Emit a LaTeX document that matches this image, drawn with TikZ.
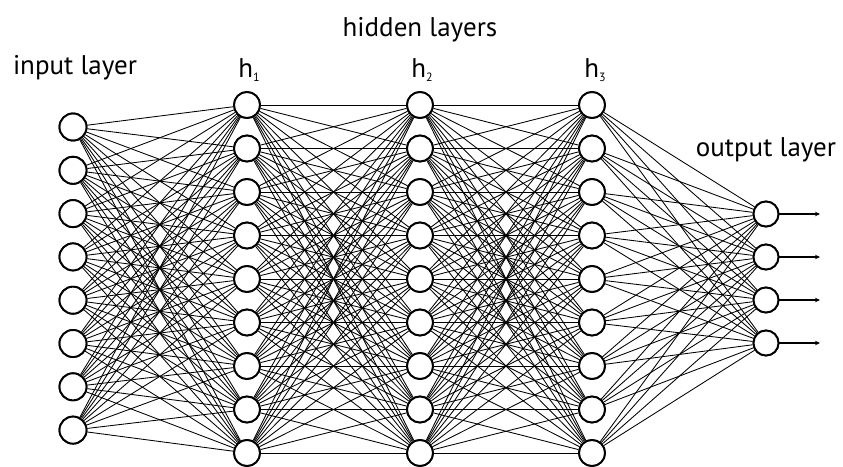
\documentclass[tikz,border=0pt]{standalone}
\usepackage{fontspec}
\setmainfont{PT Sans}
\usetikzlibrary{arrows.meta}
\tikzset{
  neuron/.style={circle, draw=black, fill=white, line width=1.9pt, inner sep=0pt, minimum size=#1},
  edge/.style={line width=0.85pt, black},
  outarrow/.style={line width=1.3pt, -{Stealth[length=5pt,width=4.5pt]}},
  lbl/.style={font=\fontsize{27}{30}\selectfont, inner sep=0pt},
  sub/.style={}
}
\newcommand{\subnum}[1]{\raisebox{-0.35ex}{\fontsize{12}{14}\selectfont #1}}
\begin{document}
\begin{tikzpicture}[x=1pt,y=-1pt]
\useasboundingbox (0,0) rectangle (843,466);
% input layer
\foreach \i in {1,...,8} {
  \node[neuron=27pt] (in\i) at (73,{127+(\i-1)*43.3}) {};
}
% hidden layers
\foreach \l/\x in {1/247,2/420,3/592} {
  \foreach \i in {1,...,9} {
    \node[neuron=26pt] (h\l-\i) at (\x,{105+(\i-1)*43.5}) {};
  }
}
% output layer
\foreach \i in {1,...,4} {
  \node[neuron=25pt] (out\i) at (766,{214+(\i-1)*43}) {};
}
% connections
\foreach \i in {1,...,8} \foreach \j in {1,...,9} \draw[edge] (in\i) -- (h1-\j);
\foreach \i in {1,...,9} \foreach \j in {1,...,9} \draw[edge] (h1-\i) -- (h2-\j);
\foreach \i in {1,...,9} \foreach \j in {1,...,9} \draw[edge] (h2-\i) -- (h3-\j);
\foreach \i in {1,...,9} \foreach \j in {1,...,4} \draw[edge] (h3-\i) -- (out\j);
% output arrows
\foreach \i in {1,...,4} {
  \coordinate (e\i) at (820,{214+(\i-1)*43});
  \draw[outarrow] (out\i) -- (e\i);
}
% redraw neurons on top
\foreach \i in {1,...,8} \node[neuron=27pt] at (in\i) {};
\foreach \l in {1,2,3} \foreach \i in {1,...,9} \node[neuron=26pt] at (h\l-\i) {};
\foreach \i in {1,...,4} \node[neuron=25pt] at (out\i) {};
% labels
\node[lbl] (thidden) at (420,30) {hidden layers};
\node[lbl] (tinput) at (75,68) {input layer};
\node[lbl] (th1) at (249,70) {h\subnum{1}};
\node[lbl] (th2) at (422,70) {h\subnum{2}};
\node[lbl] (th3) at (595,70) {h\subnum{3}};
\node[lbl] (toutput) at (766,150) {output layer};
\end{tikzpicture}
\end{document}
